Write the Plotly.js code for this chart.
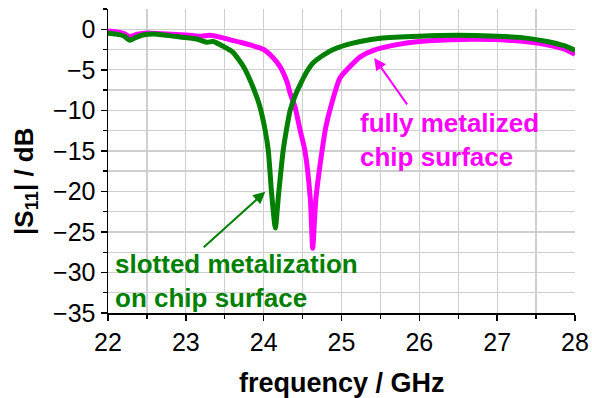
<!DOCTYPE html>
<html>
<head>
<meta charset="utf-8">
<script src="https://cdn.plot.ly/plotly-3.0.1.min.js"></script>
<style>html,body{margin:0;padding:0;background:#fff;}#chart{width:592px;height:398px;}</style>
</head>
<body>
<div id="chart"></div>
<script>
// frequency (GHz) and |S11| (dB) for slotted metalization (green)
const freqSlotted = [22.0,22.1,22.2,22.28,22.36,22.45,22.63,22.88,23.14,23.27,23.35,23.48,23.6,23.74,23.87,23.95,24.02,24.06,24.1,24.15,24.19,24.25,24.3,24.34,24.4,24.47,24.55,24.64,24.75,24.85,25.07,25.24,25.5,26.0,26.5,26.8,27.3,27.64,27.85,28.0];
const s11Slotted = [-0.5,-0.6,-0.8,-1.35,-1.0,-0.7,-0.6,-0.9,-1.2,-1.6,-1.5,-2.1,-2.8,-4.6,-7.3,-9.5,-12.5,-15,-20,-24.5,-20.5,-15,-12,-10,-8.3,-6.8,-5.3,-4.1,-3.3,-2.7,-1.9,-1.5,-1.1,-0.85,-0.75,-0.8,-1.0,-1.5,-2.0,-2.6];
// fully metalized chip surface (magenta)
const freqFull = [22.0,22.1,22.2,22.28,22.38,22.5,22.7,23.05,23.2,23.31,23.45,23.57,23.7,23.85,24.0,24.1,24.21,24.3,24.34,24.4,24.47,24.53,24.6,24.63,24.67,24.75,24.8,24.87,24.98,25.15,25.24,25.41,25.71,26.0,26.56,27.2,27.64,27.85,28.0];
const s11Full = [-0.2,-0.3,-0.5,-0.9,-0.6,-0.45,-0.55,-0.75,-0.85,-0.75,-1.0,-1.3,-1.6,-2.0,-2.5,-3.3,-4.6,-6.5,-7.9,-9.5,-12.5,-15,-21,-27,-21,-15,-12,-9.3,-6.0,-4.2,-3.4,-2.6,-1.9,-1.5,-1.25,-1.4,-1.9,-2.4,-3.1];
const xTickVals = [22,23,24,25,26,27,28];
const yTickVals = [0,-5,-10,-15,-20,-25,-30,-35];
const labelFull = 'fully metalized<br>chip surface';
const labelSlotted = 'slotted metalization<br>on chip surface';
const xTitle = 'frequency / GHz';
const yTitle = '|S<sub>11</sub>| / dB';

const GREEN = '#008000', MAGENTA = '#ff00ff';
const FONT = 'Arial, "Liberation Sans", sans-serif';

const traces = [
  {x: freqFull, y: s11Full, mode: 'lines', line: {color: MAGENTA, width: 5, shape: 'spline', smoothing: 0.6}, hoverinfo: 'skip'},
  {x: freqSlotted, y: s11Slotted, mode: 'lines', line: {color: GREEN, width: 5, shape: 'spline', smoothing: 0.6}, hoverinfo: 'skip'}
];

const fmt = v => String(v).replace('-', '\u2212');

const layout = {
  width: 592, height: 398,
  margin: {l: 108, r: 17, t: 9, b: 85},
  showlegend: false,
  paper_bgcolor: '#fff', plot_bgcolor: '#fff',
  font: {family: FONT, size: 25, color: '#000'},
  xaxis: {
    range: [22, 28], tickvals: xTickVals, ticktext: xTickVals.map(fmt),
    showline: true, linecolor: '#000', linewidth: 1.5,
    ticks: 'outside', ticklen: 6, tickwidth: 1.5, tickcolor: '#000',
    showgrid: true, gridcolor: '#cfcfcf', gridwidth: 1.3, zeroline: false,
    minor: {dtick: 0.5, tick0: 22, ticks: 'outside', ticklen: 4, tickwidth: 1.3, tickcolor: '#000', showgrid: true, gridcolor: '#cfcfcf', gridwidth: 1.3},
    tickfont: {size: 25}
  },
  yaxis: {
    range: [-35, 2.5], tickvals: yTickVals, ticktext: yTickVals.map(fmt),
    showline: true, linecolor: '#000', linewidth: 1.5,
    ticks: 'outside', ticklen: 6, tickwidth: 1.5, tickcolor: '#000',
    showgrid: true, gridcolor: '#cfcfcf', gridwidth: 1.3, zeroline: false,
    minor: {dtick: 2.5, tick0: 0, ticks: 'outside', ticklen: 4, tickwidth: 1.3, tickcolor: '#000', showgrid: true, gridcolor: '#cfcfcf', gridwidth: 1.3},
    tickfont: {size: 25}
  },
  annotations: [
    {xref: 'paper', yref: 'paper', x: 0.5, y: -0.23, yanchor: 'middle', xanchor: 'center', showarrow: false,
     text: '<b>' + xTitle + '</b>', font: {size: 27, color: '#000'}},
    {xref: 'paper', yref: 'paper', x: -0.178, y: 0.434, yanchor: 'middle', xanchor: 'center', textangle: -90, showarrow: false,
     text: '<b>' + yTitle + '</b>', font: {size: 26, color: '#000'}},
    {x: 25.21, y: -13.6, xanchor: 'left', yanchor: 'middle', align: 'left', showarrow: false,
     text: '<b>' + labelFull + '</b>', font: {size: 26, color: MAGENTA}},
    {x: 22.06, y: -31.0, xanchor: 'left', yanchor: 'middle', align: 'left', showarrow: false,
     text: '<b>' + labelSlotted + '</b>', font: {size: 26, color: GREEN}},
    {x: 25.42, y: -3.53, ax: 34, ay: 48, text: '', showarrow: true, arrowhead: 2, arrowsize: 1.2, arrowwidth: 2, arrowcolor: MAGENTA},
    {x: 24.02, y: -20.04, ax: -63, ay: 57, text: '', showarrow: true, arrowhead: 2, arrowsize: 1.2, arrowwidth: 2, arrowcolor: GREEN}
  ]
};

Plotly.newPlot('chart', traces, layout, {staticPlot: true, displayModeBar: false});
</script>
</body>
</html>
